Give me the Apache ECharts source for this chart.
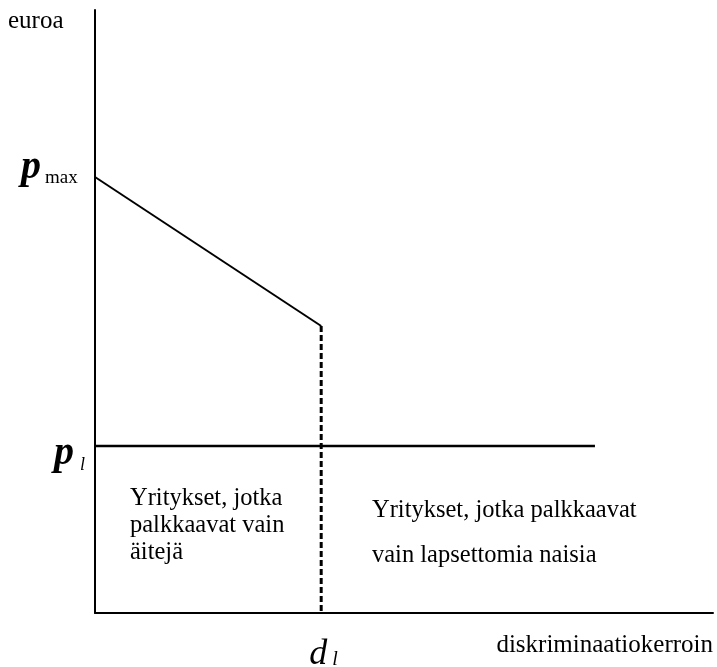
<!DOCTYPE html>
<html>
<head>
<meta charset="utf-8">
<script src="https://cdn.jsdelivr.net/npm/echarts@6/dist/echarts.min.js"></script>
<style>
  html, body { margin: 0; padding: 0; background: #fff; }
  #chart { width: 717px; height: 667px; }
</style>
</head>
<body>
<div id="chart"></div>
<script>
// price levels (y) and discrimination coefficient (x), axis units 0..100
const pMax = 72.3
const pKink = 47.6
const pL = 27.7
const dL = 36.6
const pLineEnd = 80.9

const demandLine = [[0, pMax], [dL, pKink]]
const dropLine = [[dL, pKink], [dL, 0]]
const priceLine = [[0, pL], [pLineEnd, pL]]

const leftText = ['Yritykset, jotka', 'palkkaavat vain', 'äitejä']
const rightText = ['Yritykset, jotka palkkaavat', 'vain lapsettomia naisia']

const serif = 'Liberation Serif'
const chart = echarts.init(document.getElementById('chart'))

const option = {
  animation: false,
  backgroundColor: '#fff',
  grid: { left: 95, right: 4, top: 10, bottom: 54 },
  xAxis: {
    type: 'value',
    min: 0,
    max: 100,
    axisLine: { show: true, lineStyle: { color: '#000', width: 2 } },
    axisTick: { show: false },
    splitLine: { show: false },
    axisLabel: { show: false }
  },
  yAxis: {
    type: 'value',
    min: 0,
    max: 100,
    axisLine: { show: true, lineStyle: { color: '#000', width: 2 } },
    axisTick: { show: false },
    splitLine: { show: false },
    axisLabel: { show: false }
  },
  series: [
    {
      type: 'line',
      data: demandLine,
      symbol: 'none',
      lineStyle: { color: '#000', width: 2 }
    },
    {
      type: 'line',
      data: dropLine,
      symbol: 'none',
      lineStyle: { color: '#000', width: 3, type: [6, 3] }
    },
    {
      type: 'line',
      data: priceLine,
      symbol: 'none',
      lineStyle: { color: '#000', width: 2.5 }
    }
  ]
}

chart.setOption(option)

// labels placed from the axis scales
const toPx = v => chart.convertToPixel({ gridIndex: 0 }, v)
const yMax = toPx([0, pMax])[1]
const yL = toPx([0, pL])[1]
const xD = toPx([dL, 0])[0]
const xAxisY = toPx([0, 0])[1]

const txt = (x, y, text, size, extra) => ({
  type: 'text',
  x: x,
  y: y,
  style: Object.assign({
    text: text,
    fontFamily: serif,
    fontSize: size,
    fill: '#000',
    verticalAlign: 'middle'
  }, extra || {})
})
const bi = { fontStyle: 'italic', fontWeight: 'bold' }
const it = { fontStyle: 'italic' }

chart.setOption({
  graphic: [
    txt(8, 21, 'euroa', 25),
    txt(21, yMax - 9, 'p', 40, bi),
    txt(45, yMax + 1, 'max', 19),
    txt(54, yL + 8, 'p', 40, bi),
    txt(80, yL + 19, 'l', 18, it),
    txt(xD - 12, xAxisY + 42, 'd', 36, it),
    txt(xD + 11, xAxisY + 47, 'l', 20, it),
    txt(713, xAxisY + 32, 'diskriminaatiokerroin', 25, { align: 'right' }),
    {
      type: 'text',
      left: 130,
      top: 485,
      style: { text: leftText.join('\n'), fontFamily: serif, fontSize: 24.5, lineHeight: 27, fill: '#000' }
    },
    {
      type: 'text',
      left: 372,
      top: 488,
      style: { text: rightText.join('\n'), fontFamily: serif, fontSize: 24.5, lineHeight: 45, fill: '#000' }
    }
  ]
})
</script>
</body>
</html>
